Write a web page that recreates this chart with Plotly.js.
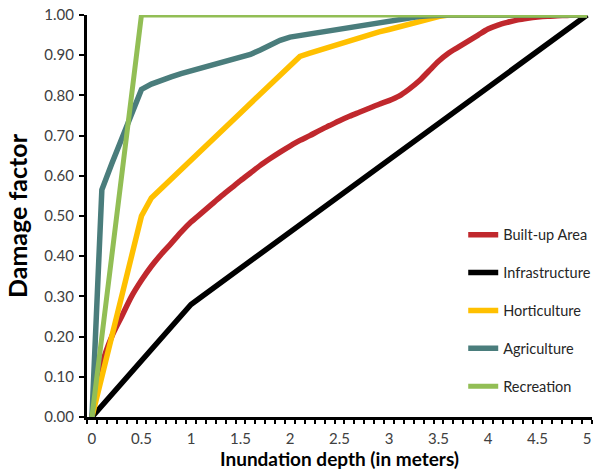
<!DOCTYPE html>
<html>
<head>
<meta charset="utf-8">
<script src="https://cdn.plot.ly/plotly-3.0.1.min.js"></script>
<style>html,body{margin:0;padding:0;background:#fff}#chart{width:599px;height:474px}</style>
</head>
<body>
<div id="chart"></div>
<script>
const depths = [0,0.1,0.2,0.3,0.4,0.5,0.6,0.7,0.8,0.9,1.0,1.1,1.2,1.3,1.4,1.5,1.6,1.7,1.8,1.9,2.0,2.1,2.2,2.3,2.4,2.5,2.6,2.7,2.8,2.9,3.0,3.1,3.2,3.3,3.4,3.5,3.6,3.7,3.8,3.9,4.0,4.1,4.2,4.3,4.4,4.5,4.6,4.7,4.8,4.9,5.0];

const builtUp = [0,0.13,0.20,0.25,0.30,0.34,0.375,0.405,0.432,0.46,0.485,0.506,0.527,0.548,0.568,0.588,0.607,0.626,0.643,0.659,0.674,0.688,0.70,0.713,0.725,0.737,0.748,0.758,0.768,0.778,0.787,0.798,0.815,0.835,0.86,0.885,0.905,0.92,0.935,0.95,0.965,0.975,0.982,0.988,0.992,0.995,0.997,0.998,0.999,1.0,1.0];

const infrastructure = [0,0.028,0.056,0.084,0.112,0.14,0.168,0.196,0.224,0.252,0.28,0.298,0.316,0.334,0.352,0.37,0.388,0.406,0.424,0.442,0.46,0.478,0.496,0.514,0.532,0.55,0.568,0.586,0.604,0.622,0.64,0.658,0.676,0.694,0.712,0.73,0.748,0.766,0.784,0.802,0.82,0.838,0.856,0.874,0.892,0.91,0.928,0.946,0.964,0.982,1.0];

const horticulture = [0,0.10,0.20,0.30,0.40,0.50,0.545,0.568,0.592,0.615,0.639,0.662,0.686,0.709,0.733,0.756,0.78,0.803,0.827,0.85,0.874,0.897,0.905,0.913,0.921,0.929,0.937,0.944,0.951,0.958,0.964,0.971,0.978,0.985,0.991,0.996,1.0,1.0,1.0,1.0,1.0,1.0,1.0,1.0,1.0,1.0,1.0,1.0,1.0,1.0,1.0];

const agriculture = [0,0.565,0.63,0.69,0.75,0.815,0.828,0.838,0.846,0.854,0.861,0.868,0.874,0.88,0.886,0.893,0.902,0.913,0.925,0.937,0.945,0.949,0.953,0.957,0.961,0.965,0.969,0.973,0.977,0.981,0.986,0.99,0.993,0.996,0.998,1.0,1.0,1.0,1.0,1.0,1.0,1.0,1.0,1.0,1.0,1.0,1.0,1.0,1.0,1.0,1.0];

const recreation = [0,0.2,0.4,0.6,0.8,1.0,1.0,1.0,1.0,1.0,1.0,1.0,1.0,1.0,1.0,1.0,1.0,1.0,1.0,1.0,1.0,1.0,1.0,1.0,1.0,1.0,1.0,1.0,1.0,1.0,1.0,1.0,1.0,1.0,1.0,1.0,1.0,1.0,1.0,1.0,1.0,1.0,1.0,1.0,1.0,1.0,1.0,1.0,1.0,1.0,1.0];

const seriesNames = ["Built-up Area","Infrastructure","Horticulture","Agriculture","Recreation"];
const seriesColors = ["#C0282D","#000000","#FFC000","#4A7D7C","#92BE55"];
const seriesValues = [builtUp, infrastructure, horticulture, agriculture, recreation];

const xTickVals = [0,0.5,1,1.5,2,2.5,3,3.5,4,4.5,5];
const xTickText = ["0","0.5","1","1.5","2","2.5","3","3.5","4","4.5","5"];
const yTickVals = [0,0.1,0.2,0.3,0.4,0.5,0.6,0.7,0.8,0.9,1.0];
const yTickText = ["0.00","0.10","0.20","0.30","0.40","0.50","0.60","0.70","0.80","0.90","1.00"];

// category boundaries for minor ticks
const boundaries = [depths[0] - 0.05].concat(depths.map(d => +(d + 0.05).toFixed(2)));

const font = "Lato, 'Open Sans', sans-serif";

const traces = seriesNames.map((n, i) => ({
  x: depths,
  y: seriesValues[i],
  name: n,
  type: "scatter",
  mode: "lines",
  legendgroup: "g" + i,
  line: {color: seriesColors[i], width: i === 4 ? 5 : 5.5, shape: i === 0 ? "spline" : "linear", smoothing: 0.8}
}));

const layout = {
  width: 599, height: 474,
  margin: {l: 87, r: 3, t: 15, b: 57},
  paper_bgcolor: "#fff", plot_bgcolor: "#fff",
  font: {family: font, size: 13, color: "#404040"},
  showlegend: true,
  legend: {
    x: 0.745, y: 0.493, xanchor: "left", yanchor: "top",
    bgcolor: "rgba(0,0,0,0)",
    font: {family: font, size: 14.5, color: "#262626"},
    tracegroupgap: 16,
    itemwidth: 30
  },
  xaxis: {
    range: [-0.05, 5.05],
    tickmode: "array", tickvals: xTickVals, ticktext: xTickText,
    ticks: "", showgrid: false, zeroline: false,
    showline: true, linecolor: "#000", linewidth: 3,
    ticklabelstandoff: 6,
    tickfont: {family: font, size: 15, color: "#404040"},
    minor: {tickmode: "array", tickvals: boundaries, ticks: "outside", ticklen: 4, tickwidth: 2, tickcolor: "#000", showgrid: false},
    title: {text: "<b>Inundation depth (in meters)</b>", font: {family: font, size: 19, color: "#000"}, standoff: 4}
  },
  yaxis: {
    range: [0, 1],
    tickmode: "array", tickvals: yTickVals, ticktext: yTickText,
    ticks: "outside", ticklen: 5, tickwidth: 2, tickcolor: "#000",
    showgrid: false, zeroline: false,
    showline: true, linecolor: "#000", linewidth: 3,
    ticklabelstandoff: 2,
    tickfont: {family: font, size: 15, color: "#404040"},
    title: {text: "<b>Damage factor</b>", font: {family: font, size: 25, color: "#000"}, standoff: 10}
  }
};

Plotly.newPlot("chart", traces, layout, {displayModeBar: false, staticPlot: true});
</script>
</body>
</html>
